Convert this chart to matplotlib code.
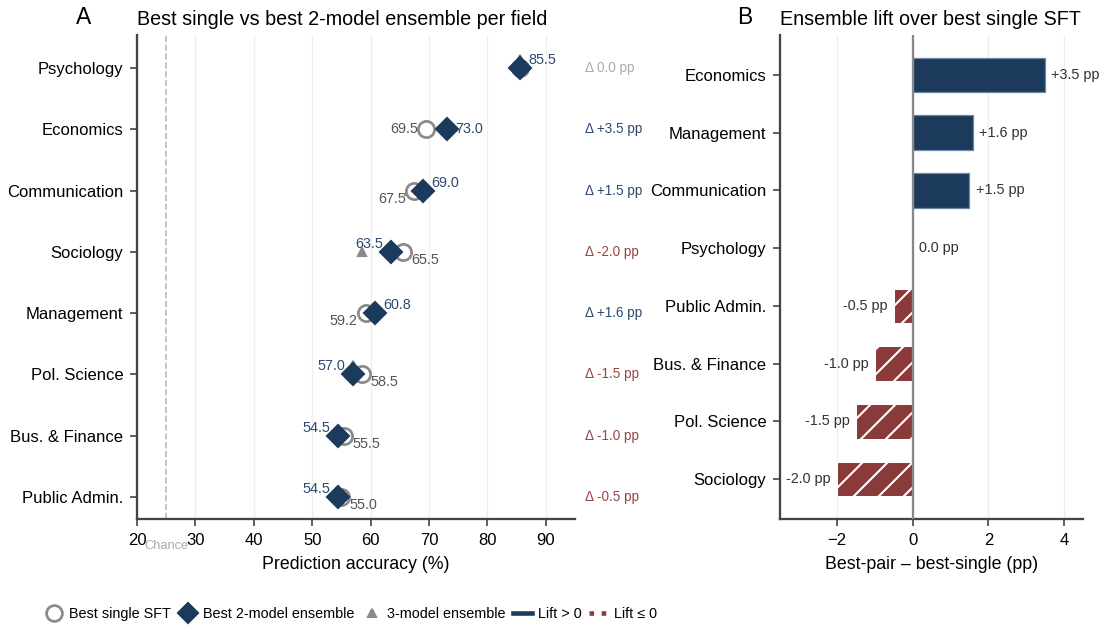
import numpy as np
import matplotlib
matplotlib.use("Agg")
import matplotlib.pyplot as plt
from matplotlib.lines import Line2D

plt.rcParams['font.family'] = ['Liberation Sans', 'DejaVu Sans']
plt.rcParams['hatch.color'] = 'white'
plt.rcParams['hatch.linewidth'] = 1.0

# data
fields = ["Psychology", "Economics", "Communication", "Sociology",
          "Management", "Pol. Science", "Bus. & Finance", "Public Admin."]
bestSingle = [85.5, 69.5, 67.5, 65.5, 59.2, 58.5, 55.5, 55.0]
bestPair = [85.5, 73.0, 69.0, 63.5, 60.8, 57.0, 54.5, 54.5]
bestTriple = [85.5, np.nan, 66.5, 58.5, np.nan, 57.0, np.nan, np.nan]
chance = 25

lift = [round(p - s, 1) for p, s in zip(bestPair, bestSingle)]

_navy = "#1b3a5c"
_red = "#8b3a3a"
_gray = "#8a8a8a"
_txtBlue = "#2c4a70"
_txtGray = "#555555"
_spine = "#444444"

_fig = plt.figure(figsize=(1102 / 150, 625 / 150), dpi=150)
_axA = _fig.add_axes([0.1243, 0.1696, 0.3975, 0.7744])
_axB = _fig.add_axes([0.7078, 0.1696, 0.2750, 0.7744])

for _ax in (_axA, _axB):
	for _s in ("top", "right"):
		_ax.spines[_s].set_visible(False)
	for _s in ("left", "bottom"):
		_ax.spines[_s].set_color(_spine)
		_ax.spines[_s].set_linewidth(1.1)
	_ax.tick_params(length=3.5, width=0.8, color=_spine, labelsize=8, pad=3)
	_ax.grid(axis="x", color="#eeeeee", lw=0.6)
	_ax.set_axisbelow(True)

# ---- panel A
_y = np.arange(len(fields))
# triangles hidden under the diamond get nudged up a little
_yTri = [yy - 0.15 if abs(t - p) < 0.6 else yy for yy, t, p in zip(_y, bestTriple, bestPair)]

_axA.axvline(chance, color="#bbbbbb", ls="--", lw=0.8, zorder=1)
_axA.plot(bestTriple, _yTri, "^", ms=4.2, color=_gray, ls="none", zorder=2)
_axA.plot(bestSingle, _y, "o", ms=7.8, mfc="white", mec=_gray, mew=1.3, ls="none", zorder=3)
_axA.plot(bestPair, _y, "D", ms=7.2, color=_navy, ls="none", zorder=4)

for _i in range(len(fields)):
	_s, _p = bestSingle[_i], bestPair[_i]
	if _s == _p:
		_axA.annotate(f"{_p:.1f}", (_p, _i), xytext=(4.3, 3.8), textcoords="offset points",
			ha="left", va="center", fontsize=6.9, color=_txtBlue)
		continue
	_dy = 0 if abs(_p - _s) >= 3 else 3.8
	_pSide = 1 if _p > _s else -1
	_axA.annotate(f"{_p:.1f}", (_p, _i), xytext=(4.0 * _pSide, _dy), textcoords="offset points",
		ha="left" if _pSide > 0 else "right", va="center", fontsize=6.9, color=_txtBlue, zorder=5)
	_axA.annotate(f"{_s:.1f}", (_s, _i), xytext=(-4.0 * _pSide, -_dy), textcoords="offset points",
		ha="right" if _pSide > 0 else "left", va="center", fontsize=6.9, color=_txtGray, zorder=5)

for _i, _d in enumerate(lift):
	if _d > 0:
		_c, _t = _txtBlue, f"Δ {_d:+.1f} pp"
	elif _d < 0:
		_c, _t = "#9a4444", f"Δ {_d:+.1f} pp"
	else:
		_c, _t = "#aaaaaa", "Δ 0.0 pp"
	_axA.text(1.023, _i, _t, transform=_axA.get_yaxis_transform(), ha="left", va="center",
		fontsize=6.5, color=_c)

_axA.text(chance, -0.056, "Chance", transform=_axA.get_xaxis_transform(), ha="center", va="center",
	fontsize=6.2, color="#aaaaaa")

_axA.set_xlim(20, 95)
_axA.set_ylim(7.36, -0.54)
_axA.set_xticks(range(20, 100, 10))
_axA.set_yticks(_y)
_axA.set_yticklabels(fields)
_axA.set_xlabel("Prediction accuracy (%)", fontsize=8.5)
_axA.set_title("Best single vs best 2-model ensemble per field", loc="left", fontsize=9.5, pad=5)
_axA.text(-0.123, 1.037, "A", transform=_axA.transAxes, ha="center", va="center", fontsize=11)

# ---- panel B
_order = sorted(range(len(fields)), key=lambda i: -lift[i])
_bFields = [fields[i] for i in _order]
_bLift = [lift[i] for i in _order]
_yB = np.arange(len(_bFields))

for _j, _v in enumerate(_bLift):
	if _v > 0:
		_axB.barh(_j, _v, height=0.6, color=_navy, edgecolor="#6f88a8", lw=0.6, zorder=2)
	elif _v < 0:
		_axB.barh(_j, _v, height=0.6, color=_red, edgecolor="white", lw=0.5, hatch="//", zorder=2)
	if _v >= 0:
		_axB.annotate(f"{_v:+.1f} pp" if _v > 0 else "0.0 pp", (_v, _j), xytext=(3, 0),
			textcoords="offset points", ha="left", va="center", fontsize=6.9, color="#333333")
	else:
		_axB.annotate(f"{_v:.1f} pp", (_v, _j), xytext=(-3, 0),
			textcoords="offset points", ha="right", va="center", fontsize=6.9, color="#333333")

_axB.axvline(0, color="#888888", lw=1.1, zorder=3)
_axB.set_xlim(-3.5, 4.5)
_axB.set_ylim(7.69, -0.69)
_axB.set_xticks([-2, 0, 2, 4])
_axB.set_yticks(_yB)
_axB.set_yticklabels(_bFields)
_axB.set_xlabel("Best-pair – best-single (pp)", fontsize=8.5)
_axB.set_title("Ensemble lift over best single SFT", loc="left", fontsize=9.5, pad=5)
_axB.text(-0.116, 1.037, "B", transform=_axB.transAxes, ha="center", va="center", fontsize=11)

# ---- legend
_handles = [
	Line2D([], [], marker="o", ls="none", ms=7.6, mfc="white", mec=_gray, mew=1.3, label="Best single SFT"),
	Line2D([], [], marker="D", ls="none", ms=7, color=_navy, label="Best 2-model ensemble"),
	Line2D([], [], marker="^", ls="none", ms=4.2, color=_gray, label="3-model ensemble"),
	Line2D([], [], color=_navy, lw=2.2, label="Lift > 0"),
	Line2D([], [], color=_red, lw=2.2, ls=":", label="Lift ≤ 0"),
]
_fig.legend(handles=_handles, loc="center", bbox_to_anchor=(0.318, 0.018), ncol=5, frameon=False,
	fontsize=6.9, handletextpad=0.4, columnspacing=0.55, handlelength=1.3)

_fig.savefig("out.png", dpi=150)
